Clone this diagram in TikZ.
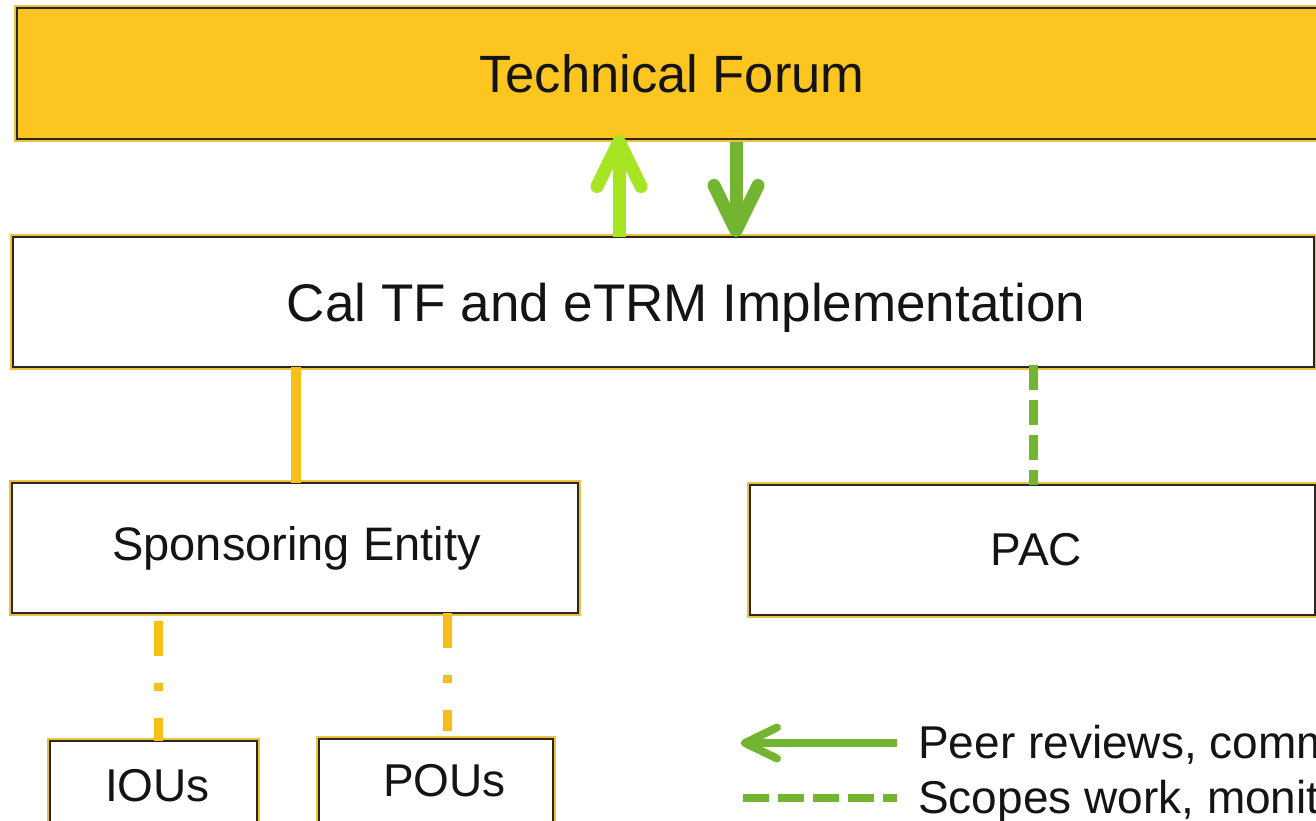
\documentclass[tikz,border=0pt]{standalone}
\usepackage{fontspec}
\setmainfont{Liberation Sans}
\usetikzlibrary{arrows.meta}
\definecolor{tfyellow}{HTML}{FDC520}
\definecolor{halo}{HTML}{EBC240}
\definecolor{edgedark}{HTML}{2A2620}
\definecolor{lineyellow}{HTML}{F7BF1A}
\definecolor{lightgreen}{HTML}{A7E523}
\definecolor{mygreen}{HTML}{73B531}
\definecolor{txt}{HTML}{141414}
\begin{document}
\begin{tikzpicture}[x=1pt,y=-1pt,
  box/.style={rectangle, draw=edgedark, line width=2pt,
    preaction={draw=halo, line width=5.5pt},
    inner sep=0pt, outer sep=0pt, anchor=north west, text=txt,
    font=\fontsize{47}{56}\selectfont},
  yellowsolid/.style={draw=lineyellow, line width=10pt},
  yellowdashdot/.style={draw=lineyellow, line width=9pt,
    dash pattern=on 35pt off 27pt on 8pt off 27pt},
  greendash/.style={draw=mygreen, line width=9pt, dash pattern=on 25pt off 10pt},
  legdash/.style={draw=mygreen, line width=8pt, dash pattern=on 26pt off 9pt},
  bigarrow/.style={line width=13pt, -{Straight Barb[round,length=45pt,width=44pt]}},
  legarrow/.style={draw=mygreen, line width=8pt, -{Straight Barb[round,length=32pt,width=31pt]}},
  legtext/.style={anchor=base west, inner sep=0pt, text=txt, font=\fontsize{46}{54}\selectfont}
]
\useasboundingbox (0,0) rectangle (1316,820);

\node[box, fill=tfyellow, minimum width=1310pt, minimum height=131pt,
  font=\fontsize{52.5}{60}\selectfont] (tf) at (17,8) {Technical Forum};
\node[box, fill=white, minimum width=1301pt, minimum height=130pt, text depth=0pt,
  font=\fontsize{53}{60}\selectfont] (cal) at (13,237) {\hspace*{45pt}Cal TF and eTRM Implementation};
\node[box, fill=white, minimum width=566pt, minimum height=130pt] (se) at (12,483) {\hspace*{3pt}Sponsoring Entity};
\node[box, fill=white, minimum width=565pt, minimum height=130pt,
  font=\fontsize{46}{54}\selectfont] (pac) at (750,485) {\hspace*{8pt}PAC};
\node[box, fill=white, minimum width=207pt, minimum height=90pt,
  font=\fontsize{46}{54}\selectfont] (iou) at (50,741) {\hspace*{8pt}IOUs};
\node[box, fill=white, minimum width=234pt, minimum height=84pt,
  font=\fontsize{46}{54}\selectfont] (pou) at (319,739) {\hspace*{17pt}POUs};

% arrows between Technical Forum and Cal TF
\draw[bigarrow, lightgreen] ([xshift=606pt]cal.north west) -- ([xshift=606pt,yshift=4pt]cal.north west |- tf.south);
\draw[bigarrow, mygreen] ([xshift=719pt,yshift=-3pt]tf.south west) -- ([xshift=719pt]tf.south west |- cal.north);

% Cal TF to Sponsoring Entity / PAC
\draw[yellowsolid] ([xshift=283pt]cal.south west) -- ([xshift=283pt]cal.south west |- se.north);
\draw[greendash] ([xshift=1020pt,yshift=2pt]cal.south west) -- ([xshift=1020pt]cal.south west |- pac.north);

% Sponsoring Entity to IOUs / POUs
\draw[yellowdashdot] ([xshift=146pt,yshift=-8pt]se.south west) -- ([xshift=146pt]se.south west |- iou.north);
\draw[yellowdashdot] ([xshift=435pt]se.south west) -- ([xshift=435pt,yshift=8pt]se.south west |- pou.north);

% legend
\coordinate (la1) at (897,743);
\coordinate (la2) at (741,743);
\coordinate (ld1) at (743,798);
\coordinate (ld2) at (897,798);
\draw[legarrow] (la1) -- (la2);
\draw[legdash] (ld1) -- (ld2);
\node[legtext] (leg1) at (918,758) {Peer reviews, comm};
\node[legtext] (leg2) at (918,813) {Scopes work, monit};
\end{tikzpicture}
\end{document}
